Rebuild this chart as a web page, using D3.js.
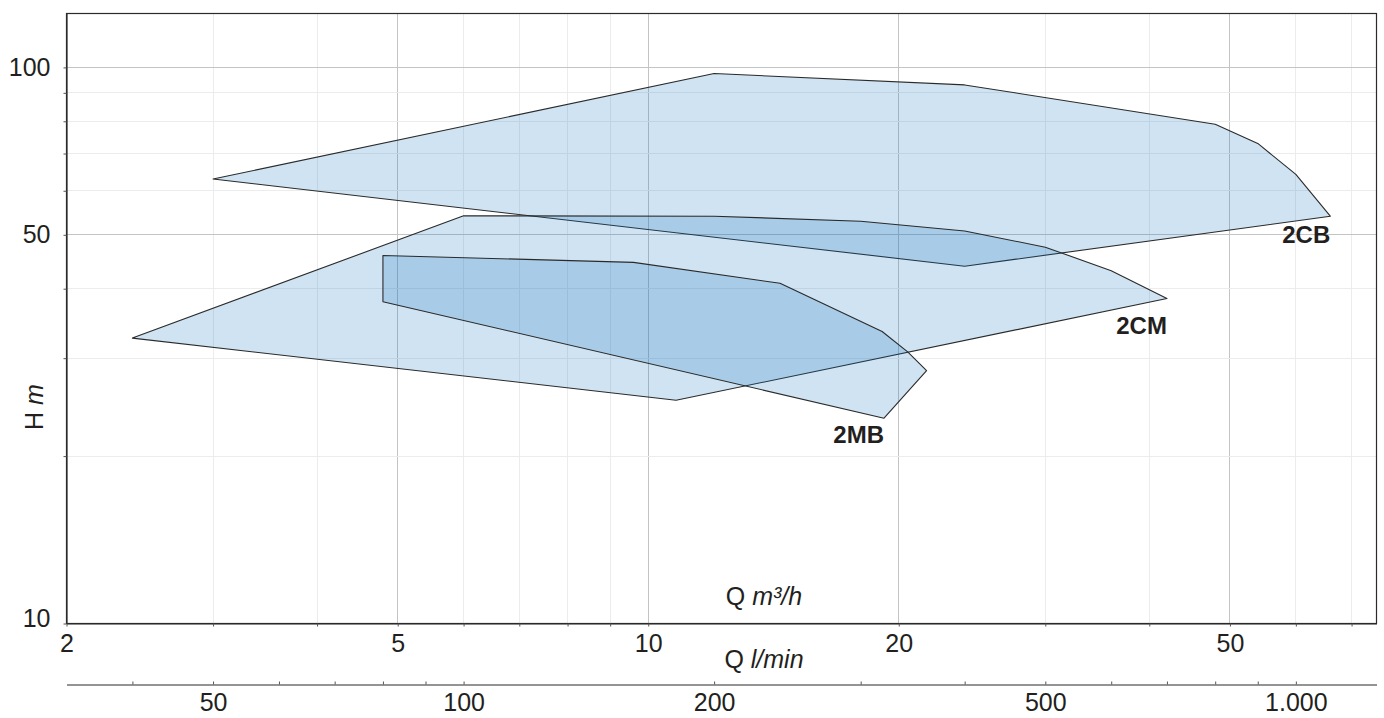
<!DOCTYPE html>
<html>
<head>
<meta charset="utf-8">
<script src="https://cdn.jsdelivr.net/npm/d3@7/dist/d3.min.js"></script>
<style>
  html, body { margin: 0; padding: 0; background: #fff; }
  svg { display: block; font-family: "Liberation Sans", Arial, Helvetica, sans-serif; }
</style>
</head>
<body>
<svg id="chart" width="1384" height="718"></svg>
<script>
// ---- data (Q in m³/h, H in m) ----
const seriesNames = ["2CB", "2CM", "2MB"];
const cbQ = [3, 12, 24, 48, 54, 60, 66, 24];
const cbH = [63, 97.5, 93, 79, 73, 64.2, 54, 43.9];
const cmQ = [2.4, 6, 12, 18, 24, 30, 36, 42, 10.8];
const cmH = [32.6, 54.1, 54, 52.9, 50.8, 47.5, 43.1, 38.4, 25.2];
const mbQ = [4.8, 9.6, 14.4, 19.1, 20.5, 21.6, 19.2, 4.8];
const mbH = [45.9, 44.6, 40.9, 33.5, 30.8, 28.5, 23.4, 37.9];
const labelQ = [66, 42, 19.2];
const labelH = [48.3, 33.2, 21.1];

const xTicks = [2, 3, 4, 5, 6, 7, 8, 9, 10, 20, 30, 40, 50, 60, 70];
const xMajor = [2, 5, 10, 20, 50];
const yTicks = [10, 20, 30, 40, 50, 60, 70, 80, 90, 100];
const yMajor = [10, 50, 100];
const lTicks = [40, 50, 60, 70, 80, 90, 100, 200, 300, 400, 500, 600, 700, 800, 900, 1000];
const lMajor = [50, 100, 200, 500, 1000];

const qDomain = [2, 75];
const hDomain = [10, 125];

// ---- layout ----
const pLeft = 66.5, pRight = 1376.5, pTop = 13.5, pBottom = 623.5;
const svg = d3.select("#chart");
const fontSize = 25;
const textColor = "#231f20";

const x = d3.scaleLog().domain(qDomain).range([pLeft, pRight]);
const y = d3.scaleLog().domain(hDomain).range([pBottom, pTop]);
const xl = d3.scaleLog().domain(qDomain.map(d => d * 1000 / 60)).range([pLeft, pRight]);

const crisp = v => Math.round(v - 0.5) + 0.5;

// grid
const grid = svg.append("g");
grid.selectAll("line.vx").data(xTicks.filter(d => d > qDomain[0])).join("line")
  .attr("x1", d => crisp(x(d))).attr("x2", d => crisp(x(d)))
  .attr("y1", pTop).attr("y2", pBottom)
  .attr("stroke", d => xMajor.includes(d) ? "#c4c4c4" : "#ececec")
  .attr("stroke-width", 1);
grid.selectAll("line.hy").data(yTicks.filter(d => d > hDomain[0])).join("line")
  .attr("y1", d => crisp(y(d))).attr("y2", d => crisp(y(d)))
  .attr("x1", pLeft).attr("x2", pRight)
  .attr("stroke", d => yMajor.includes(d) ? "#c4c4c4" : "#ececec")
  .attr("stroke-width", 1);

// polygons
const polys = [
  d3.zip(cbQ, cbH),
  d3.zip(cmQ, cmH),
  d3.zip(mbQ, mbH)
];
const line = d3.line().x(d => x(d[0])).y(d => y(d[1])).curve(d3.curveLinearClosed);
svg.append("g").selectAll("path").data(polys).join("path")
  .attr("d", line)
  .attr("fill", "rgb(15,115,190)")
  .attr("fill-opacity", 0.2)
  .attr("stroke", "#2a2a2a")
  .attr("stroke-width", 1.1)
  .attr("stroke-linejoin", "round");

// series labels
svg.append("g").selectAll("text").data(seriesNames).join("text")
  .attr("x", (d, i) => x(labelQ[i]))
  .attr("y", (d, i) => y(labelH[i]))
  .attr("text-anchor", "end")
  .attr("font-weight", "bold")
  .attr("font-size", 24)
  .attr("fill", textColor)
  .text(d => d);

// frame
svg.append("rect")
  .attr("x", pLeft).attr("y", pTop)
  .attr("width", pRight - pLeft).attr("height", pBottom - pTop)
  .attr("fill", "none").attr("stroke", "#2b2b2b").attr("stroke-width", 1.2);

// x axis (m³/h)
const gx = svg.append("g").attr("transform", `translate(0,${pBottom})`)
  .call(d3.axisBottom(x).tickValues(xTicks).tickSize(3).tickSizeOuter(0).tickPadding(8)
    .tickFormat(d => xMajor.includes(d) ? String(d) : ""));
// y axis
const gy = svg.append("g").attr("transform", `translate(${pLeft},0)`)
  .call(d3.axisLeft(y).tickValues(yTicks).tickSize(3).tickSizeOuter(0).tickPadding(13)
    .tickFormat(d => yMajor.includes(d) ? String(d) : ""));
gy.selectAll(".tick text").filter(d => d === 10).attr("dy", "0.1em");

// second x axis (l/min)
const loc = d3.formatLocale({ decimal: ",", thousands: ".", grouping: [3], currency: ["", ""] });
const fmt = loc.format(",");
const gl = svg.append("g").attr("transform", `translate(0,684.5)`)
  .call(d3.axisBottom(xl).tickValues(lTicks).tickSize(-3).tickSizeOuter(0).tickPadding(9)
    .tickFormat(d => lMajor.includes(d) ? fmt(d) : ""));

[gx, gy, gl].forEach(g => {
  g.selectAll("text").attr("font-size", fontSize).attr("fill", textColor)
    .attr("font-family", "\"Liberation Sans\", Arial, sans-serif");
  g.selectAll("line").attr("stroke", "#555");
  g.select(".domain").attr("stroke", "#2b2b2b").attr("stroke-width", 1.2);
});

// axis titles
const t1 = svg.append("text").attr("x", 764).attr("y", 605).attr("text-anchor", "middle")
  .attr("font-size", fontSize).attr("fill", textColor);
t1.append("tspan").text("Q ");
t1.append("tspan").attr("font-style", "italic").text("m³/h");

const t2 = svg.append("text").attr("x", 764).attr("y", 668).attr("text-anchor", "middle")
  .attr("font-size", fontSize).attr("fill", textColor);
t2.append("tspan").text("Q ");
t2.append("tspan").attr("font-style", "italic").text("l/min");

const t3 = svg.append("text").attr("transform", "translate(43,407) rotate(-90)")
  .attr("text-anchor", "middle").attr("font-size", fontSize).attr("fill", textColor);
t3.append("tspan").text("H ");
t3.append("tspan").attr("font-style", "italic").text("m");
</script>
</body>
</html>
